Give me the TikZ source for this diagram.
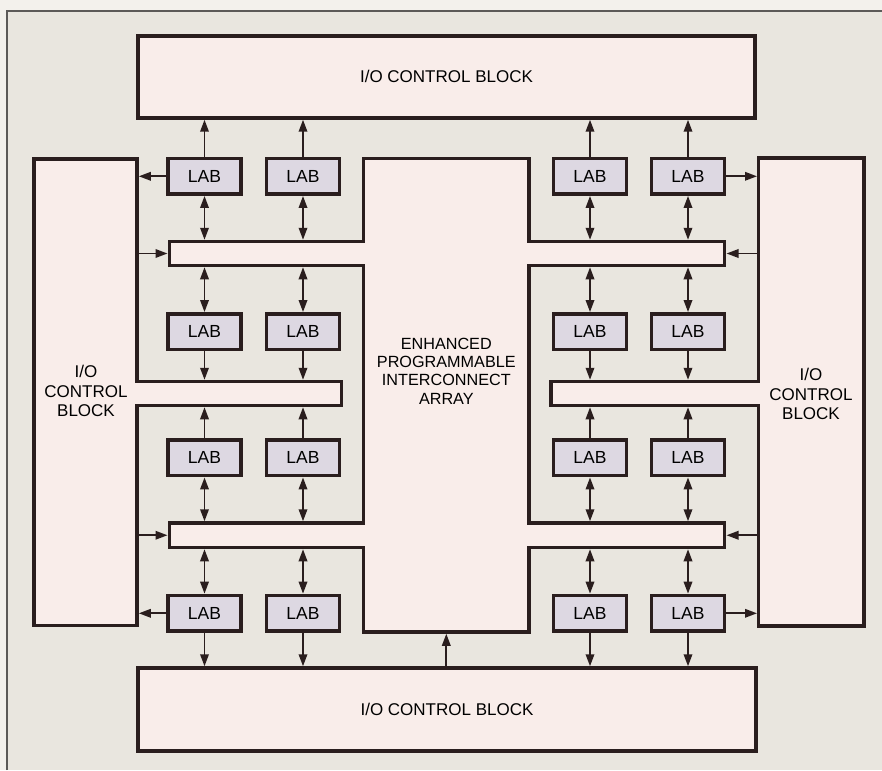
\documentclass[tikz,border=0pt]{standalone}
\usepackage{fontspec}
\setmainfont{Liberation Sans}
\usetikzlibrary{arrows.meta}
\definecolor{pagebg}{HTML}{F3F1EC}
\definecolor{innerbg}{HTML}{E9E6DF}
\definecolor{blkfill}{HTML}{F9EDEA}
\definecolor{labfill}{HTML}{DDD8E2}
\definecolor{ink}{HTML}{2A1E1E}
\definecolor{framec}{HTML}{5C5A58}
\begin{document}
\begin{tikzpicture}[x=1pt,y=-1pt,
  blk/.style={draw=ink,fill=blkfill,line width=3.5pt,line join=miter},
  blknode/.style={blk,inner sep=0pt,align=center,font=\fontsize{17}{19.5}\selectfont},
  labbox/.style={draw=ink,fill=labfill,line width=3.8pt,minimum width=73pt,minimum height=35.5pt,inner sep=0pt,font=\fontsize{17.5}{19.5}\selectfont},
  txt/.style={align=center,font=\fontsize{17}{19.2}\selectfont,inner sep=0pt},
  arr/.style={draw=ink,line width=1.8pt,-{Triangle[length=12pt,width=8.5pt]}},
  darr/.style={draw=ink,line width=1.8pt,{Triangle[length=12pt,width=8.5pt]}-{Triangle[length=12pt,width=8.5pt]}}]
\useasboundingbox (0,0) rectangle (882,770);
% background and frame
\fill[pagebg] (0,0) rectangle (882,770);
\fill[innerbg] (7,11) rectangle (882,770);
\draw[framec,line width=1.8pt] (7,770) -- (7,11) -- (882,11);

% top and bottom I/O control blocks
\node[blknode,minimum width=617pt,minimum height=82pt] (top) at (446.5,77) {\raisebox{2pt}{I/O CONTROL BLOCK}};
\node[blknode,minimum width=618pt,minimum height=83pt] (bot) at (447,709.5) {\raisebox{-3.5pt}{I/O CONTROL BLOCK}};

% left I/O control block
\draw[blk] (34,159) -- (137,159) -- (137,381.5) -- (341.7,381.5) -- (341.7,405.5)
  -- (137,405.5) -- (137,625.5) -- (34,625.5) -- cycle;
\node[txt] (ltxt) at (86,391) {I/O\\CONTROL\\BLOCK};
% right I/O control block
\draw[blk] (864,158) -- (758.7,158) -- (758.7,381.5) -- (551,381.5) -- (551,405.5)
  -- (758.7,405.5) -- (758.7,626) -- (864,626) -- cycle;
\node[txt] (rtxt) at (811,394) {I/O\\CONTROL\\BLOCK};
% enhanced programmable interconnect array
\draw[blk] (363.7,158.7) -- (529,158.7) -- (529,241.5) -- (724.7,241.5) -- (724.7,265.5)
  -- (529,265.5) -- (529,523) -- (724.7,523) -- (724.7,547.5) -- (529,547.5)
  -- (529,632) -- (363.7,632) -- (363.7,547.5) -- (169.3,547.5) -- (169.3,523)
  -- (363.7,523) -- (363.7,265.5) -- (169.3,265.5) -- (169.3,241.5) -- (363.7,241.5) -- cycle;
\node[txt,font=\fontsize{16.2}{18.3}\selectfont] (ctxt) at (446.3,371) {ENHANCED\\PROGRAMMABLE\\INTERCONNECT\\ARRAY};

% reference coordinates on block edges (outer side of borders)
\coordinate (Le) at (138.8,0);
\coordinate (Re) at (757,0);
\coordinate (F1t) at (0,239.75);
\coordinate (F1b) at (0,267.25);
\coordinate (F1L) at (167.5,253.5);
\coordinate (F1R) at (726.5,253.5);
\coordinate (F2t) at (0,379.75);
\coordinate (F2b) at (0,407.25);
\coordinate (F3t) at (0,521.25);
\coordinate (F3b) at (0,549.25);
\coordinate (F3L) at (167.5,535.25);
\coordinate (F3R) at (726.5,535.25);
\coordinate (Cb) at (446.3,633.75);

% LABs
\foreach \c/\x in {1/204.5,2/303,3/590,4/688}{
  \foreach \r/\y in {1/176.3,2/331.7,3/457.8,4/613.3}{
    \node[labbox] (lab\r\c) at (\x,\y) {LAB};
  }
}

% connections
\foreach \c in {1,2,3,4}{
  \draw[arr] (lab1\c.north) -- (lab1\c.north |- top.south);
  \draw[darr] (lab1\c.south) -- (lab1\c.south |- F1t);
  \draw[darr] (lab2\c.north) -- (lab2\c.north |- F1b);
  \draw[arr] (lab2\c.south) -- (lab2\c.south |- F2t);
  \draw[arr] (lab3\c.north) -- (lab3\c.north |- F2b);
  \draw[darr] (lab3\c.south) -- (lab3\c.south |- F3t);
  \draw[darr] (lab4\c.north) -- (lab4\c.north |- F3b);
  \draw[arr] (lab4\c.south) -- (lab4\c.south |- bot.north);
}
\draw[arr] (lab11.west) -- (lab11.west -| Le);
\draw[arr] (lab14.east) -- (lab14.east -| Re);
\draw[arr] (lab41.west) -- (lab41.west -| Le);
\draw[arr] (lab44.east) -- (lab44.east -| Re);
\draw[arr] (Le |- F1L) -- (F1L);
\draw[arr] (Re |- F1R) -- (F1R);
\draw[arr] (Le |- F3L) -- (F3L);
\draw[arr] (Re |- F3R) -- (F3R);
\draw[arr] (Cb |- bot.north) -- (Cb);
\end{tikzpicture}
\end{document}
